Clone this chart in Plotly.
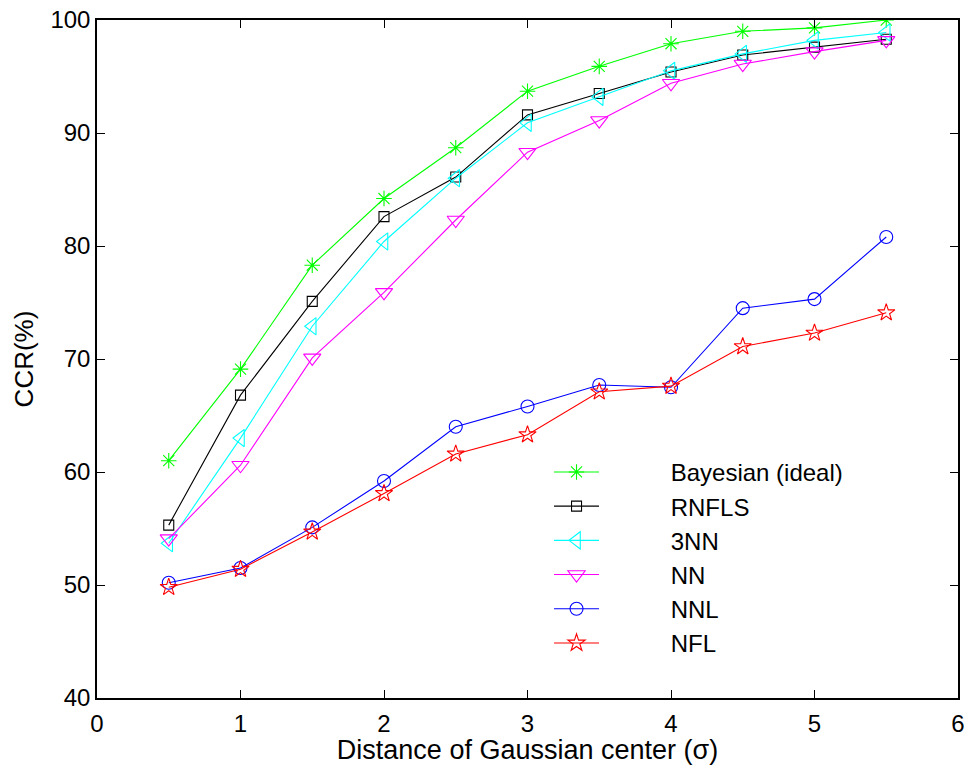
import plotly.graph_objects as go

distance = [0.5, 1.0, 1.5, 2.0, 2.5, 3.0, 3.5, 4.0, 4.5, 5.0, 5.5]

bayesian = [61.0, 69.1, 78.3, 84.2, 88.7, 93.7, 95.9, 97.9, 99.0, 99.3, 100.0]
rnfls = [55.3, 66.8, 75.1, 82.6, 86.1, 91.6, 93.5, 95.4, 96.9, 97.6, 98.3]
nn3 = [53.7, 63.0, 72.9, 80.4, 86.0, 90.9, 93.2, 95.5, 97.0, 98.2, 98.9]
nn = [54.1, 60.6, 70.1, 75.9, 82.3, 88.3, 91.1, 94.4, 96.1, 97.2, 98.2]
nnl = [50.2, 51.5, 55.1, 59.2, 64.0, 65.8, 67.7, 67.5, 74.5, 75.3, 80.8]
nfl = [49.8, 51.4, 54.7, 58.1, 61.6, 63.3, 67.1, 67.6, 71.1, 72.3, 74.1]

names = ["Bayesian (ideal)", "RNFLS", "3NN", "NN", "NNL", "NFL"]
series = [bayesian, rnfls, nn3, nn, nnl, nfl]
colors = ["#00FF00", "#000000", "#00FFFF", "#FF00FF", "#0000FF", "#FF0000"]
symbols = ["asterisk-open", "square-open", "triangle-left-open",
           "triangle-down-open", "circle-open", "star-open"]
sizes = [13, 10, 15, 15, 13, 13]

pad = "\u00a0" * 10

fig = go.Figure()
for name, ys, c, s, sz in zip(names, series, colors, symbols, sizes):
    fig.add_trace(go.Scatter(
        x=distance, y=ys, mode="lines+markers", name=pad + name,
        line=dict(color=c, width=1.1),
        marker=dict(symbol=s, size=sz, color=c, line=dict(color=c, width=1.1)),
    ))

font_family = "Liberation Sans, Arial, Helvetica, sans-serif"

fig.update_layout(
    width=967, height=765,
    margin=dict(l=97, r=9, t=20, b=67, autoexpand=False),
    paper_bgcolor="white", plot_bgcolor="white",
    font=dict(family=font_family, size=24, color="black"),
    showlegend=True,
    legend=dict(
        x=0.525, y=0.366, xanchor="left", yanchor="top",
        bgcolor="rgba(0,0,0,0)", borderwidth=0,
        font=dict(family=font_family, size=24, color="black"),
        itemwidth=45, tracegroupgap=0,
    ),
    xaxis=dict(
        range=[0, 6], dtick=1, tick0=0, automargin=False,
        showgrid=False, zeroline=False,
        showline=True, linecolor="black", linewidth=1.5, mirror="ticks",
        ticks="inside", ticklen=8, tickwidth=1, tickcolor="black",
        tickfont=dict(size=24), ticklabelstandoff=3,
        title=dict(text="Distance of Gaussian center (σ)", font=dict(size=27), standoff=9),
    ),
    yaxis=dict(
        range=[40, 100], dtick=10, tick0=40, automargin=False,
        showgrid=False, zeroline=False,
        showline=True, linecolor="black", linewidth=1.5, mirror="ticks",
        ticks="inside", ticklen=8, tickwidth=1, tickcolor="black",
        tickfont=dict(size=24),
        title=dict(text="CCR(%)", font=dict(size=26), standoff=9),
    ),
)

fig.write_html(
    "out.html",
    config={"displayModeBar": False},
    post_script="document.body.style.margin='0px';",
)
